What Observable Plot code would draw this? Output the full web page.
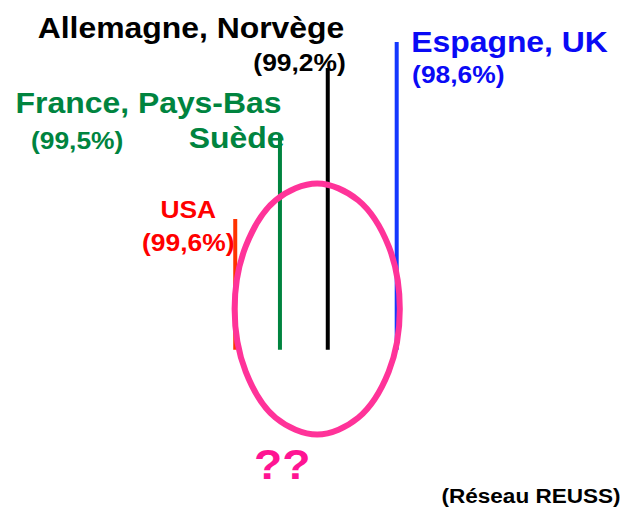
<!DOCTYPE html>
<html>
<head>
<meta charset="utf-8">
<script src="https://cdn.jsdelivr.net/npm/d3@7"></script>
<script src="https://cdn.jsdelivr.net/npm/@observablehq/plot@0.6"></script>
<style>
  html, body { margin: 0; padding: 0; background: #fff; overflow: hidden; }
  #chart svg { display: block; }
</style>
</head>
<body>
<div id="chart"></div>
<script>
// ---- Data ----
const groups = ["USA", "France, Pays-Bas, Suède", "Allemagne, Norvège", "Espagne, UK"];
const groupLines = [["USA"], ["France, Pays-Bas", "Suède"], ["Allemagne, Norvège"], ["Espagne, UK"]];
const shares = [99.6, 99.5, 99.2, 98.6];          // %
const lineX = [37.8, 45.0, 52.7, 63.8];           // horizontal position (chart units 0–100)
const lineTop = [43.6, 71.6, 93.9, 102.6];        // top of each line (chart units, base = 0)
const lineBase = [0, 0, 0, 0];
// points read around the pink ellipse (clockwise from the top)
const ellipseX = [51.0, 57.6, 62.5, 64.3, 62.5, 57.6, 51.0, 44.3, 39.5, 37.7, 39.5, 44.3];
const ellipseY = [55.6, 50.0, 34.7, 13.8, -7.2, -22.5, -28.1, -22.5, -7.2, 13.8, 34.7, 50.0];
const unknownLabel = "??";
const sourceLabel = "(Réseau REUSS)";

// ---- Build tables ----
const rows = groups.map((group, i) => ({group, share: shares[i], x: lineX[i], top: lineTop[i], base: lineBase[i]}));
const ellipse = ellipseX.map((x, i) => ({x, y: ellipseY[i]}));
const fmt = d3.formatLocale({decimal: ",", thousands: "\u00a0", grouping: [3], currency: ["", " €"]}).format(".1f");
const pct = d => `(${fmt(d.share)}%)`;

const RED = "#ff0000", RED_LINE = "#ff3300";
const GREEN = "#00843f";
const BLUE = "#0a0af5", BLUE_LINE = "#1438ff";
const PINK = "#ff3399", PINK_TEXT = "#ff1493";
const TITLE = 29, PCT = 24;

const base = {x: "x", y: "top", fontWeight: "bold", lineAnchor: "bottom"};

const chart = Plot.plot({
  width: 621,
  height: 507,
  margin: 0,
  x: {domain: [0, 100], axis: null},
  y: {domain: [-52.4, 116.6], axis: null},
  color: {domain: groups, range: [RED_LINE, GREEN, "#000000", BLUE_LINE]},
  style: {fontFamily: '"Liberation Sans", Arial, Helvetica, sans-serif', background: "white"},
  marks: [
    // USA
    Plot.text([rows[0]], {...base, text: d => `${groupLines[0][0]}\n${pct(d)}`, fill: RED, fontSize: PCT,
      textAnchor: "middle", lineHeight: 1.375, dx: -47, dy: 31}),
    // France, Pays-Bas, Suède
    Plot.text([rows[1]], {...base, text: () => groupLines[1][0], fill: GREEN, fontSize: TITLE, textAnchor: "end", dx: 1.5, dy: -23}),
    Plot.text([rows[1]], {...base, text: () => groupLines[1][1], fill: GREEN, fontSize: TITLE, textAnchor: "end", dx: 4.5, dy: 12}),
    Plot.text([rows[1]], {...base, text: pct, fill: GREEN, fontSize: PCT, textAnchor: "start", dx: -249, dy: 13}),
    // Allemagne, Norvège
    Plot.text([rows[2]], {...base, text: () => groupLines[2][0], fill: "#000", fontSize: TITLE, textAnchor: "end", dx: 16.5, dy: -30.5}),
    Plot.text([rows[2]], {...base, text: pct, fill: "#000", fontSize: PCT, textAnchor: "end", dx: 18, dy: 2}),
    // Espagne, UK
    Plot.text([rows[3]], {...base, text: () => groupLines[3][0], fill: BLUE, fontSize: TITLE, textAnchor: "start", dx: 14.5, dy: 9}),
    Plot.text([rows[3]], {...base, text: pct, fill: BLUE, fontSize: PCT, textAnchor: "start", dx: 15.4, dy: 40.5}),
    // vertical lines
    Plot.ruleX(rows, {x: "x", y1: "base", y2: "top", stroke: "group", strokeWidth: 4}),
    // ellipse
    Plot.line(ellipse, {x: "x", y: "y", curve: "catmull-rom-closed", stroke: PINK, strokeWidth: 6}),
    // ?? under the ellipse
    Plot.text([ellipse[6]], {x: "x", y: "y", text: () => unknownLabel, fill: PINK_TEXT, fontSize: 42, fontWeight: "bold",
      textAnchor: "middle", lineAnchor: "bottom", dx: -35, dy: 44}),
    // source
    Plot.text([sourceLabel], {text: d => d, frameAnchor: "bottom-left", textAnchor: "start", lineAnchor: "bottom",
      fontSize: 20.5, fontWeight: "bold", fill: "#000", dx: 441, dy: -5})
  ]
});

// the original slide is slightly stretched horizontally
chart.querySelectorAll("text").forEach(t => {
  const tr = t.getAttribute("transform") || "";
  t.setAttribute("transform", `${tr} scale(1.1,1)`.trim());
});

document.getElementById("chart").appendChild(chart);
</script>
</body>
</html>
